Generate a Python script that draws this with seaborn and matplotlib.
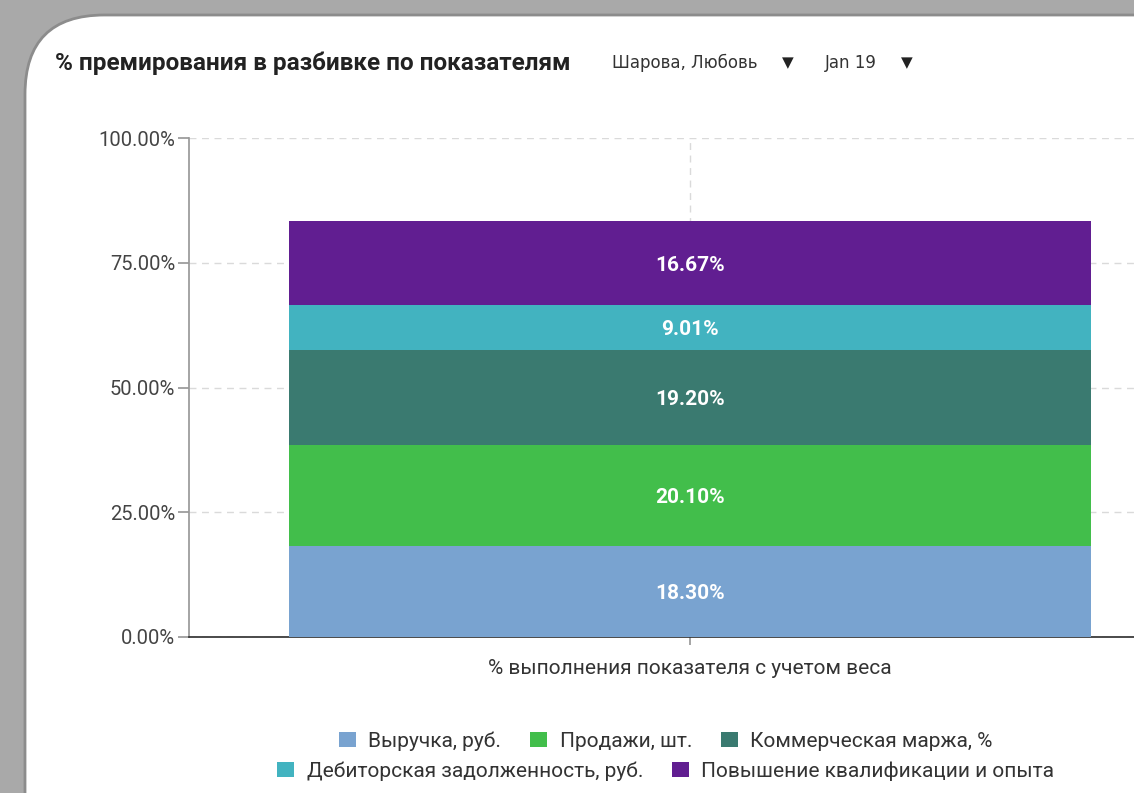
import numpy as np
import pandas as pd
import seaborn as sns
import matplotlib.pyplot as plt
from matplotlib.patches import FancyBboxPatch
from matplotlib.ticker import FuncFormatter

# Data
category = ['% выполнения показателя с учетом веса']
series = ['Выручка, руб.', 'Продажи, шт.', 'Коммерческая маржа, %',
          'Дебиторская задолженность, руб.', 'Повышение квалификации и опыта']
values = [18.30, 20.10, 19.20, 9.01, 16.67]
colors = ['#79a3d0', '#42be4b', '#3a7a70', '#42b3c0', '#611e91']

sns.set_theme(style='white')
plt.rcParams['font.family'] = ['Roboto', 'DejaVu Sans']

W, H = 1134, 793
fig = plt.figure(figsize=(W / 100, H / 100), dpi=100)
fig.patch.set_facecolor('#a9a9a9')

# white card behind the chart (screenshot look)
card = FancyBboxPatch((25 / W, -0.2), 1.2, (H - 15) / H + 0.2,
                      boxstyle='round,pad=0,rounding_size=0.07',
                      transform=fig.transFigure, facecolor='white',
                      edgecolor='#8c8c8c', linewidth=2, zorder=-5,
                      mutation_aspect=W / H)
fig.patches.append(card)

ax = fig.add_axes([189 / W, 1 - 637 / H, 1002 / W, (637 - 138) / H])
ax.set_facecolor('none')

df = pd.DataFrame({'category': category * len(series), 'series': series, 'value': values})
bottom = 0.0
for name, val, col in zip(series, values, colors):
    sub = df[df['series'] == name]
    sns.barplot(data=sub, x='category', y='value', color=col, bottom=bottom,
                width=0.8, ax=ax, label=name, saturation=1, linewidth=0, zorder=3)
    bottom += val

handles, labels = ax.get_legend_handles_labels()
if ax.get_legend() is not None:
    ax.get_legend().remove()

for p, val in zip(ax.patches, values):
    ax.text(p.get_x() + p.get_width() / 2, p.get_y() + p.get_height() / 2,
            f'{val:.2f}%', ha='center', va='center_baseline', color='white',
            fontsize=15, fontweight='bold', zorder=4)

ax.set_ylim(0, 100)
ax.set_xlim(-0.5, 0.5)
ax.set_yticks([0, 25, 50, 75, 100])
ax.yaxis.set_major_formatter(FuncFormatter(lambda v, _: f'{v:.2f}%'))
ax.set_xlabel('')
ax.set_ylabel('')
ax.grid(True, axis='both', linestyle=(0, (5, 4)), color='#dadada', linewidth=1, zorder=0)
ax.set_axisbelow(True)

for s in ['top', 'right']:
    ax.spines[s].set_visible(False)
ax.spines['left'].set_color('#999999')
ax.spines['bottom'].set_color('#333333')
ax.tick_params(axis='y', left=True, length=8, color='#999999', labelsize=14.5,
               labelcolor='#444444', pad=2)
ax.tick_params(axis='x', bottom=True, length=6, color='#999999', labelsize=15,
               labelcolor='#333333', pad=10)

# header
fig.text(55 / W, 1 - 63 / H, '% премирования в разбивке по показателям',
         fontsize=17.5, fontweight='bold', color='#222222', va='center')
fig.text(612 / W, 1 - 63 / H, 'Шарова, Любовь', fontsize=12,
         color='#333333', va='center', family='DejaVu Sans')
fig.text(788 / W, 1 - 63 / H, '\u25bc', fontsize=11, ha='center',
         color='#222222', va='center', family='DejaVu Sans')
fig.text(825 / W, 1 - 63 / H, 'Jan 19', fontsize=12,
         color='#333333', va='center', family='DejaVu Sans')
fig.text(907 / W, 1 - 63 / H, '\u25bc', fontsize=11, ha='center',
         color='#222222', va='center', family='DejaVu Sans')

# legend in two centered rows
leg_kw = dict(frameon=False, fontsize=15, handlelength=0.8, handleheight=0.8,
              handletextpad=0.6, columnspacing=1.4, borderaxespad=0,
              labelcolor='#333333')
fig.legend(handles[:3], labels[:3], ncol=3, loc='center',
           bbox_to_anchor=(666 / W, 1 - 741 / H), **leg_kw)
fig.legend(handles[3:], labels[3:], ncol=2, loc='center',
           bbox_to_anchor=(666 / W, 1 - 771 / H), **leg_kw)

fig.savefig('out.png', dpi=100, facecolor=fig.get_facecolor())
plt.close()
